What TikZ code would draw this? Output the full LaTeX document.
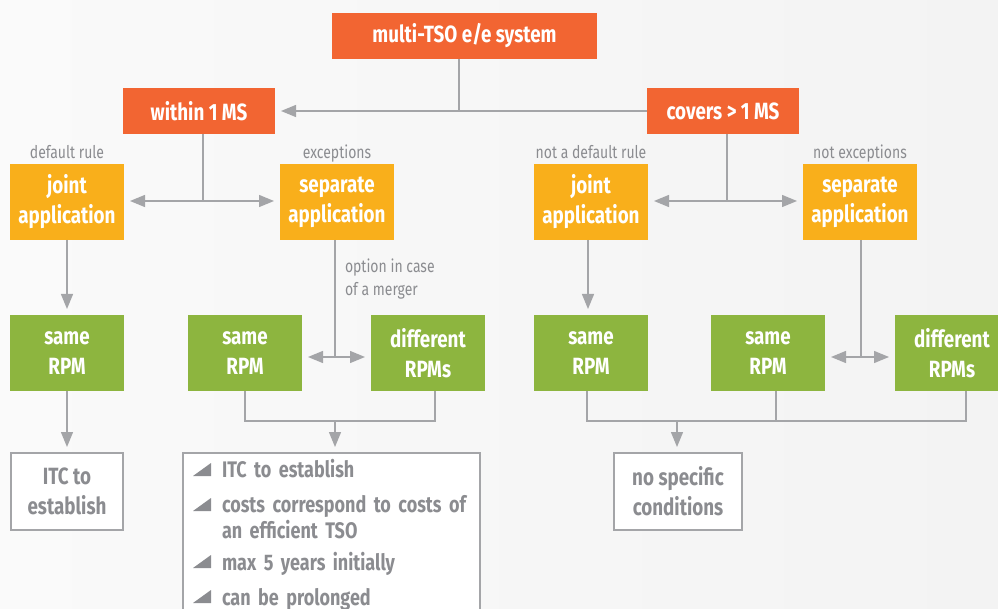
\documentclass[tikz,border=0pt]{standalone}
\usepackage{fontspec}
\setmainfont{Fira Sans}[FakeStretch=0.8]
\newcommand*{\boxfont}{\bfseries\fontsize{23.5}{30}\selectfont}
\newcommand*{\listfont}{\bfseries\fontsize{22.5}{26}\selectfont}
\newcommand*{\notefont}{\fontsize{17.5}{23}\selectfont}
\definecolor{R}{HTML}{F26532}
\definecolor{Y}{HTML}{F9AF1B}
\definecolor{G}{HTML}{8DB53F}
\definecolor{linegrey}{HTML}{A4A5A8}
\definecolor{textgrey}{HTML}{8B8C90}
\definecolor{bgleft}{HTML}{FAFAFA}
\definecolor{bgright}{HTML}{F3F3F3}
\usepackage{tikz}
\usetikzlibrary{arrows.meta}
\usetikzlibrary{positioning}
\tikzstyle{base}=[x=1pt, y=-1pt, inner sep=0pt, outer sep=0pt]
\tikzstyle{redbox}=[fill=R, text=white, font=\boxfont, minimum height=46, minimum width=152]
\tikzstyle{yellowbox}=[fill=Y, text=white, font=\boxfont, align=center, minimum height=76, minimum width=114]
\tikzstyle{greenbox}=[fill=G, text=white, font=\boxfont, align=center, minimum height=76, minimum width=114]
\tikzstyle{whitebox}=[draw=linegrey, line width=1.3pt, fill=white, text=textgrey, font=\boxfont, align=center, minimum height=77]
\tikzstyle{note}=[text=textgrey, font=\notefont, text height=12pt, text depth=3pt]
\tikzstyle{line}=[draw=linegrey, line width=1.3pt]
\tikzstyle{arrow}=[line, -{Triangle[length=15pt, width=12pt]}, fill=linegrey, shorten >=6pt]
\tikzstyle{bullet}=[fill=textgrey]

\begin{document}
\begin{tikzpicture}[base]
    \useasboundingbox (0,0) rectangle (998,609);
    \clip (0,0) rectangle (998,609);
    \fill [left color=bgleft, right color=bgright] (0,0) rectangle (998,609);

    % top level
    \node [redbox, minimum width=265] (system) at (464.5,36) {multi-TSO e/e system};
    \node [redbox] (within) at (199,111) {within 1 MS};
    \node [redbox] (covers) at (723,111) {covers > 1 MS};

    % applications
    \node [yellowbox] (joint-a) at (67,202) {joint\\application};
    \node [yellowbox] (separate-a) at (337,202) {separate\\application};
    \node [yellowbox] (joint-b) at (591,202) {joint\\application};
    \node [yellowbox] (separate-b) at (860,202) {separate\\application};
    \node [note, above=2pt of joint-a] {default rule};
    \node [note, above=2pt of separate-a] {exceptions};
    \node [note, above=2pt of joint-b] {not a default rule};
    \node [note, above=2pt of separate-b] {not exceptions};

    % price models
    \node [greenbox] (same-a) at (67,353) {same\\RPM};
    \node [greenbox] (same-b) at (245,353) {same\\RPM};
    \node [greenbox] (different-a) at (428,353) {different\\RPMs};
    \node [greenbox] (same-c) at (591,353) {same\\RPM};
    \node [greenbox] (same-d) at (768,353) {same\\RPM};
    \node [greenbox] (different-b) at (952,353) {different\\RPMs};
    \node [note, align=left, anchor=base west, text height=, text depth=] (merger) at (345,296) {option in case\\of a merger};

    % outcomes
    \node [whitebox, minimum width=112] (itc) at (67,491.5) {ITC to\\establish};
    \node [whitebox, minimum width=128] (nospec) at (678,491.5) {no specific\\conditions};
    \node [whitebox, anchor=north west, align=left, text width=277, inner xsep=10pt, inner ysep=6pt, font=\listfont] (conditions) at (183,453) {%
        \begin{tabular}{@{\hspace{29pt}}l@{}}
        ITC to establish\\[9pt]
        costs correspond to costs of\\
        an efficient TSO\\[6pt]
        max 5 years initially\\[9pt]
        can be prolonged\\[20pt]
        \end{tabular}};
    \foreach \y in {476,511,568,603}
        \fill [bullet] (193,\y) -- (211,\y) -- (211,\y-13) -- cycle;

    % connectors
    \coordinate (top-bus) at (459,112);
    \draw [line] (system.south -| top-bus) -- (top-bus);
    \draw [arrow] (covers.west) -- (within.east);

    \coordinate (left-bus) at (203,201);
    \draw [line] (within.south -| left-bus) -- (left-bus);
    \draw [arrow] (left-bus) -- (left-bus -| joint-a.east);
    \draw [arrow] (left-bus) -- (left-bus -| separate-a.west);

    \coordinate (right-bus) at (727,201);
    \draw [line] (covers.south -| right-bus) -- (right-bus);
    \draw [arrow] (right-bus) -- (right-bus -| joint-b.east);
    \draw [arrow] (right-bus) -- (right-bus -| separate-b.west);

    \draw [arrow] (joint-a.south) -- (same-a.north);
    \draw [arrow] ([xshift=-3pt]joint-b.south) -- ([xshift=-3pt]same-c.north);

    \coordinate (merge-a) at (335,357);
    \draw [line] (separate-a.south -| merge-a) -- (merge-a);
    \draw [arrow] (merge-a) -- (merge-a -| same-b.east);
    \draw [arrow] (merge-a) -- (merge-a -| different-a.west);

    \coordinate (merge-b) at (861,357);
    \draw [line] (separate-b.south -| merge-b) -- (merge-b);
    \draw [arrow] (merge-b) -- (merge-b -| same-d.east);
    \draw [arrow] (merge-b) -- (merge-b -| different-b.west);

    \draw [arrow] (same-a.south) -- (itc.north);

    \coordinate (bus-a) at (335,421);
    \draw [line] (same-b.south) |- (bus-a) -| ([xshift=7pt]different-a.south);
    \draw [arrow] (bus-a) -- (bus-a |- conditions.north);

    \coordinate (bus-b) at (677,421);
    \draw [line] ([xshift=-4pt]same-c.south) |- (bus-b) -| ([xshift=14pt]different-b.south);
    \draw [line] ([xshift=8pt]same-d.south) -- ([xshift=8pt]same-d.south |- bus-b);
    \draw [arrow] (bus-b) -- (bus-b |- nospec.north);
\end{tikzpicture}
\end{document}
